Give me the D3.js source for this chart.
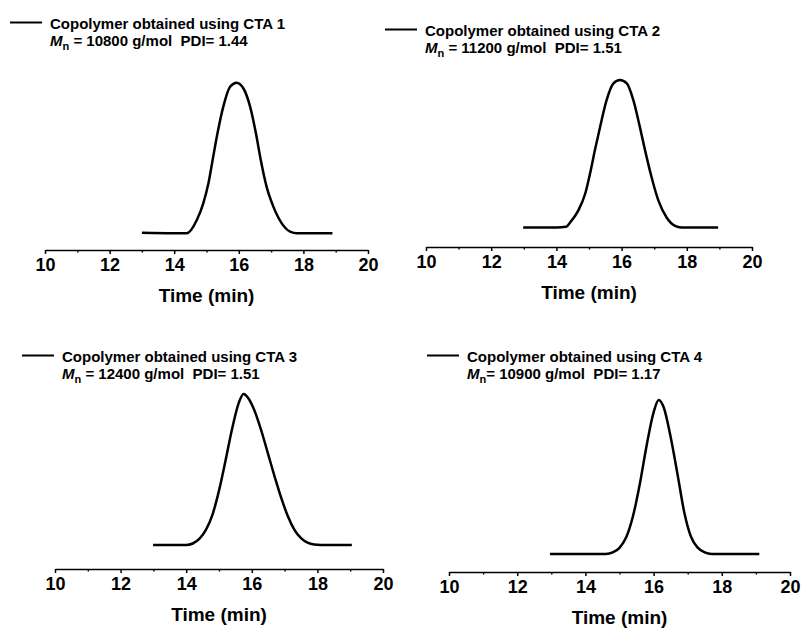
<!DOCTYPE html>
<html>
<head>
<meta charset="utf-8">
<script src="https://cdn.jsdelivr.net/npm/d3@7"></script>
<style>
  body { margin: 0; background: #fff; }
  text { font-family: "Liberation Sans", Arial, sans-serif; font-weight: bold; fill: #000; }
</style>
</head>
<body>
<div id="chart"></div>
<script>
// ---- data (normalised detector signal vs elution time) ----
let xTicks = [10, 12, 14, 16, 18, 20];
let ctaNames = ["Copolymer obtained using CTA 1", "Copolymer obtained using CTA 2",
                "Copolymer obtained using CTA 3", "Copolymer obtained using CTA 4"];
let mnValues = [10800, 11200, 12400, 10900];
let pdiValues = ["1.44", "1.51", "1.51", "1.17"];

let time1   = [13.0, 14.0, 14.39, 14.70, 14.90, 15.06, 15.19, 15.34, 15.52, 15.73, 15.93, 16.14, 16.35, 16.53, 16.68, 16.86, 17.07, 17.33, 17.59, 17.80, 18.9];
let signal1 = [0.003, 0.0, 0.0, 0.088, 0.199, 0.332, 0.487, 0.664, 0.841, 0.973, 1.0, 0.963, 0.841, 0.664, 0.487, 0.31, 0.177, 0.066, 0.011, 0.0, 0.0];

let time2   = [12.98, 14.0, 14.3, 14.42, 14.67, 14.88, 15.03, 15.18, 15.34, 15.54, 15.75, 15.95, 16.16, 16.36, 16.56, 16.72, 16.92, 17.13, 17.38, 17.64, 17.83, 18.96];
let signal2 = [0.0, 0.0, 0.005, 0.034, 0.114, 0.227, 0.364, 0.523, 0.682, 0.864, 0.977, 1.0, 0.977, 0.864, 0.682, 0.523, 0.341, 0.182, 0.068, 0.011, 0.0, 0.0];

let time3   = [12.99, 14.0, 14.2, 14.4, 14.6, 14.8, 15.0, 15.2, 15.4, 15.6, 15.75, 15.9, 16.1, 16.3, 16.5, 16.7, 16.9, 17.1, 17.3, 17.5, 17.7, 17.9, 18.1, 19.05];
let signal3 = [0.0, 0.0, 0.01, 0.04, 0.10, 0.20, 0.36, 0.56, 0.77, 0.94, 1.0, 0.97, 0.88, 0.75, 0.60, 0.45, 0.31, 0.19, 0.10, 0.045, 0.015, 0.003, 0.0, 0.0];

let time4   = [12.96, 14.6, 14.8, 15.0, 15.2, 15.4, 15.6, 15.8, 16.0, 16.15, 16.3, 16.5, 16.7, 16.9, 17.1, 17.3, 17.5, 17.7, 19.1];
let signal4 = [0.0, 0.0, 0.01, 0.04, 0.11, 0.25, 0.46, 0.71, 0.92, 1.0, 0.95, 0.76, 0.52, 0.27, 0.11, 0.04, 0.01, 0.0, 0.0];

let times = [time1, time2, time3, time4];
let signals = [signal1, signal2, signal3, signal4];

// ---- layout of the four panels (pixels) ----
let panels = [
  { x10: 45,  x20: 368, axisY: 250, baseY: 233.3, peakY: 82.7, legX: 10,  legY: 29,  eq: " = " },
  { x10: 426, x20: 752, axisY: 247, baseY: 227.5, peakY: 80,   legX: 385, legY: 36,  eq: " = " },
  { x10: 55,  x20: 383, axisY: 569, baseY: 545,   peakY: 394,  legX: 22,  legY: 362, eq: " = " },
  { x10: 449, x20: 790, axisY: 572, baseY: 554,   peakY: 400,  legX: 427, legY: 362, eq: "= " }
];

let width = 803, height = 631;

let svg = d3.select("#chart")
  .append("svg")
  .attr("width", width)
  .attr("height", height);

panels.forEach(function(p, i) {
  let g = svg.append("g");

  let xScale = d3.scaleLinear().domain([10, 20]).range([p.x10, p.x20]);
  let yScale = d3.scaleLinear().domain([0, 1]).range([p.baseY, p.peakY]);

  let pts = times[i].map(function(t, j) { return [t, signals[i][j]]; });

  let line = d3.line()
    .x(function(d) { return xScale(d[0]); })
    .y(function(d) { return yScale(d[1]); })
    .curve(d3.curveMonotoneX);

  g.append("path")
    .datum(pts)
    .attr("d", line)
    .attr("fill", "none")
    .attr("stroke", "#000")
    .attr("stroke-width", 2.5)
    .attr("stroke-linejoin", "round");

  // minor ticks first, then the labelled axis on top
  let minor = d3.axisBottom(xScale)
    .tickValues(d3.range(11, 20, 2))
    .tickSize(2.5)
    .tickFormat("");
  g.append("g")
    .attr("transform", "translate(0," + p.axisY + ")")
    .call(minor)
    .call(function(a) { a.select(".domain").remove(); })
    .selectAll("line").attr("stroke-width", 1.4);

  let xAxis = d3.axisBottom(xScale)
    .tickValues(xTicks)
    .tickSize(4)
    .tickSizeOuter(0)
    .tickPadding(4)
    .tickFormat(d3.format("d"));
  let ax = g.append("g")
    .attr("transform", "translate(0," + p.axisY + ")")
    .call(xAxis);
  ax.select(".domain").attr("stroke-width", 1.5);
  ax.selectAll(".tick line").attr("stroke-width", 1.5);
  ax.selectAll(".tick text")
    .style("font-size", "18px")
    .style("font-family", "'Liberation Sans', Arial, sans-serif")
    .style("font-weight", "bold");

  g.append("text")
    .attr("x", (p.x10 + p.x20) / 2)
    .attr("y", p.axisY + 52)
    .attr("text-anchor", "middle")
    .style("font-size", "19px")
    .text("Time (min)");

  // legend
  g.append("line")
    .attr("x1", p.legX).attr("x2", p.legX + 32)
    .attr("y1", p.legY - 6.5).attr("y2", p.legY - 6.5)
    .attr("stroke", "#000")
    .attr("stroke-width", 2);

  g.append("text")
    .attr("x", p.legX + 40)
    .attr("y", p.legY)
    .style("font-size", "15px")
    .text(ctaNames[i]);

  let t2 = g.append("text")
    .attr("x", p.legX + 40)
    .attr("y", p.legY + 17)
    .style("font-size", "15px")
    .style("white-space", "pre");
  t2.append("tspan").style("font-style", "italic").text("M");
  t2.append("tspan").attr("dy", 4).style("font-size", "11px").text("n");
  t2.append("tspan").attr("dy", -4).text(p.eq + mnValues[i] + " g/mol  PDI= " + pdiValues[i]);
});
</script>
</body>
</html>
